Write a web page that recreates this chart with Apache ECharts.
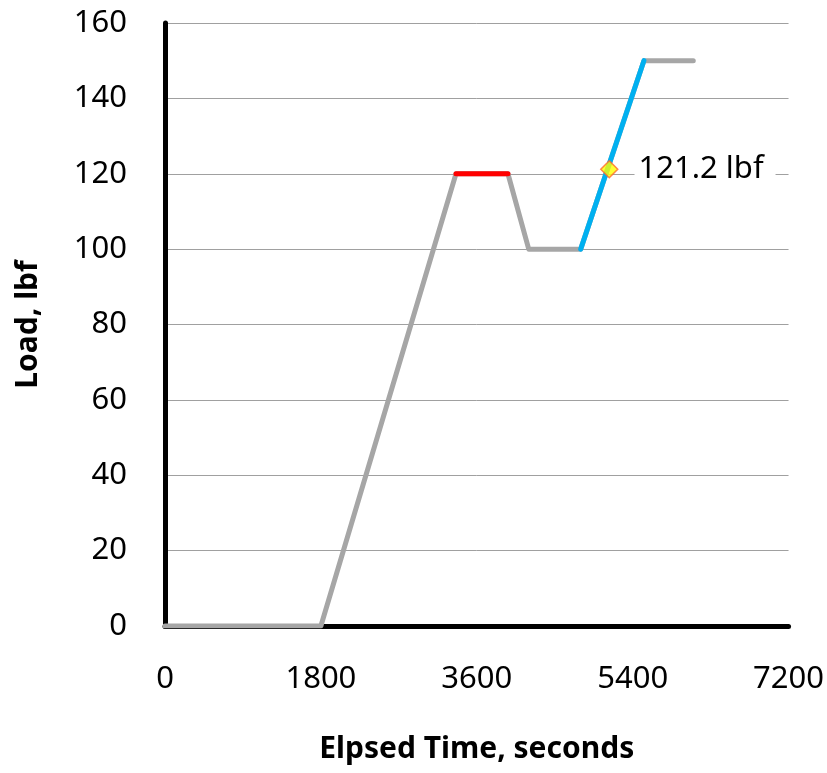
<!DOCTYPE html>
<html><head><meta charset="utf-8">
<script src="https://cdn.jsdelivr.net/npm/echarts@6/dist/echarts.min.js"></script>
<style>html,body{margin:0;padding:0;background:#fff}#c{width:827px;height:773px}</style>
</head><body><div id="c"></div>
<script>
const loadTime = [0, 1800, 3360, 3960, 4200, 4800, 5530, 6100];
const loadValue = [0, 0, 120, 120, 100, 100, 150, 150];
const holdTime = [3360, 3960];
const holdValue = [120, 120];
const rampTime = [4800, 5530];
const rampValue = [100, 150];
const markTime = [5130];
const markValue = [121.2];
const markLabel = ['121.2 lbf'];
const xTicks = [0, 1800, 3600, 5400, 7200];
const yTicks = [0, 20, 40, 60, 80, 100, 120, 140, 160];

const pairs = (a, b) => a.map((v, i) => [v, b[i]]);
const FONT = 'Noto Sans';
const chart = echarts.init(document.getElementById('c'), null, {renderer: 'canvas'});
chart.setOption({
  animation: false,
  backgroundColor: '#fff',
  grid: {left: 165, right: 36, top: 23, bottom: 147, containLabel: false},
  xAxis: {
    type: 'value', min: xTicks[0], max: xTicks[xTicks.length - 1], interval: xTicks[1] - xTicks[0],
    name: 'Elpsed Time, seconds', nameLocation: 'middle', nameGap: 108,
    nameTextStyle: {fontFamily: FONT, fontWeight: 'bold', fontSize: 30, color: '#000'},
    axisLine: {show: true, lineStyle: {color: '#000', width: 5}},
    axisTick: {show: false},
    splitLine: {show: false},
    axisLabel: {fontFamily: FONT, fontSize: 31, color: '#000', margin: 38, formatter: (v) => String(v)}
  },
  yAxis: {
    type: 'value', min: yTicks[0], max: yTicks[yTicks.length - 1], interval: yTicks[1] - yTicks[0],
    name: 'Load, lbf', nameLocation: 'middle', nameGap: 122,
    nameTextStyle: {fontFamily: FONT, fontWeight: 'bold', fontSize: 30, color: '#000'},
    axisLine: {show: true, lineStyle: {color: '#000', width: 5}},
    axisTick: {show: false},
    splitLine: {show: true, lineStyle: {color: '#a0a0a0', width: 1}},
    axisLabel: {fontFamily: FONT, fontSize: 31, color: '#000', margin: 38, formatter: (v) => String(v)}
  },
  series: [
    {type: 'line', data: pairs(loadTime, loadValue), symbol: 'none', z: 3,
     lineStyle: {color: '#a6a6a6', width: 5, cap: 'round', join: 'round'}},
    {type: 'line', data: pairs(holdTime, holdValue), symbol: 'none', z: 4,
     lineStyle: {color: '#ff0000', width: 5, cap: 'round'}},
    {type: 'line', data: pairs(rampTime, rampValue), symbol: 'none', z: 4,
     lineStyle: {color: '#00b0f0', width: 5, cap: 'round'}},
    {type: 'scatter', data: pairs(markTime, markValue), symbol: 'diamond', symbolSize: 17, z: 5,
     itemStyle: {color: '#ffff00', borderColor: '#ff6a2a', borderWidth: 1.5},
     label: {show: true, position: 'right', distance: 16, formatter: (p) => markLabel[p.dataIndex],
       fontFamily: FONT, fontSize: 31, color: '#000', opacity: 1, textBorderWidth: 0,
       backgroundColor: '#fff', padding: [2, 12, 2, 4]}}
  ]
});
</script></body></html>
